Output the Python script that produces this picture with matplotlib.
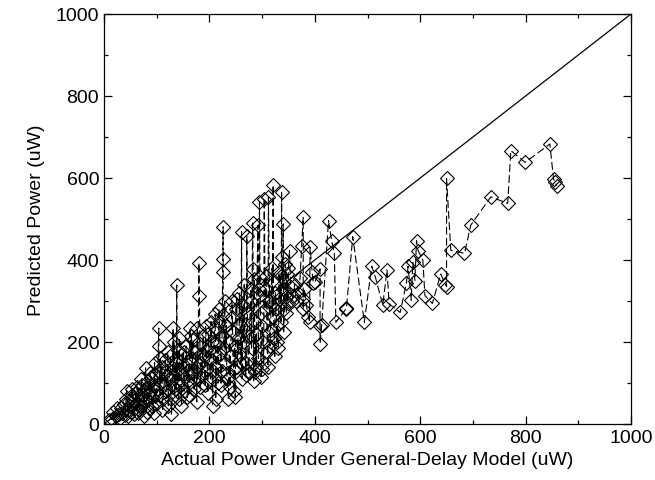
import matplotlib
matplotlib.use("Agg")
import matplotlib.pyplot as plt
from matplotlib.ticker import MultipleLocator

plt.rcParams['font.family'] = ['Liberation Sans', 'DejaVu Sans']

# (actual, predicted) pairs
actual = [10, 15, 18, 22, 24, 28, 30, 33, 35, 38, 40, 42, 43, 45, 48, 50, 52, 54, 56, 58,
          60, 62, 64, 66, 68, 70, 72, 74, 75, 77, 79, 80, 82, 84, 86, 88, 90, 92, 94, 95,
          97, 98, 100,
          102, 104, 104, 106, 108, 110, 112, 114, 116, 118, 120, 122, 124, 126, 128, 130,
          131, 132, 134, 136, 138, 139, 140, 142, 144, 146, 148, 150, 152, 154, 156, 158,
          160, 162, 163, 165, 167, 169, 171, 173, 175, 176, 178, 180, 181, 182, 184, 186,
          188, 190, 192, 194, 196, 198, 200,
          202, 204, 206, 208, 210, 211, 213, 215, 217, 219, 221, 223, 224, 226, 226, 226,
          226, 228, 230, 232, 234, 236, 238, 240, 242, 244, 246, 248, 249, 250, 252, 254,
          256, 258, 260, 261, 263, 265, 267, 269, 271, 272, 274, 276, 278, 280, 282, 283,
          285, 286, 287, 288, 290, 292, 293, 295, 296, 297, 299, 300,
          302, 304, 306, 308, 310, 312, 314, 316, 318, 320, 321, 321, 323, 325, 327, 329,
          331, 333, 335, 337, 337, 339, 340, 342, 344, 345, 347, 349, 352, 354, 356, 359,
          362, 365, 369, 372, 375, 378, 378, 378, 380, 384, 388, 390, 391, 395, 397, 400,
          410, 410, 410, 413, 426, 432, 437, 440, 459, 460, 472, 494, 508, 515, 529, 537,
          541, 562, 574, 577, 583, 586, 590, 593, 596, 605, 609, 623, 639, 648, 650, 650,
          658, 684, 696, 734, 766, 772, 799, 846, 853, 856, 859,
          46, 53, 57, 63, 67, 71, 76, 81, 87, 91, 96, 99, 107, 111, 117, 121, 127, 133,
          137, 143, 147, 151, 157, 161, 166, 172, 177, 183, 187, 193, 197, 203, 207, 212,
          218, 222, 229, 233, 239, 243, 247, 253, 257, 262, 266, 270, 275, 279, 284, 289,
          294, 298, 303, 307, 311, 315, 319, 324, 328, 332, 336, 341, 346, 350]

predicted = [10, 12, 30, 20, 38, 25, 15, 40, 28, 50, 22, 62, 80, 35, 55, 45, 30, 70, 58, 40,
             75, 50, 28, 85, 62, 45, 95, 70, 20, 55, 137, 88, 60, 105, 40, 78, 115, 65, 28, 92,
             120, 50, 85,
             130, 234, 191, 70, 100, 140, 60, 95, 155, 80, 120, 45, 110, 165, 24, 90,
             234, 135, 70, 150, 339, 105, 180, 60, 125, 95, 170, 140, 80, 115, 190, 65,
             145, 100, 234, 160, 125, 205, 85, 175, 140, 54, 110, 393, 311, 195, 150, 120,
             215, 165, 95, 180, 135, 220, 160,
             110, 200, 45, 175, 235, 268, 140, 195, 100, 250, 170, 130, 215, 481, 402, 371,
             266, 185, 150, 240, 110, 61, 200, 165, 260, 225, 135, 190, 65, 280, 305, 210,
             170, 245, 150, 469, 290, 200, 230, 120, 458, 270, 130, 215, 300, 185, 490, 378,
             354, 250, 126, 220, 320, 485, 160, 541, 358, 270, 134, 240,
             200, 549, 280, 330, 175, 553, 300, 230, 350, 260, 583, 297, 210, 320, 280, 240,
             185, 305, 360, 567, 407, 330, 488, 280, 390, 310, 366, 295, 423, 335, 301, 313,
             340, 300, 320, 355, 433, 504, 305, 280, 330, 290, 260, 248, 431, 370, 345, 346,
             378, 240, 196, 241, 496, 447, 416, 248, 280, 282, 457, 248, 385, 358, 290, 376,
             293, 272, 345, 385, 302, 394, 350, 447, 423, 400, 313, 294, 366, 340, 335, 599,
             424, 416, 485, 554, 538, 667, 638, 683, 598, 590, 581,
             20, 85, 25, 90, 35, 110, 80, 30, 125, 45, 150, 70, 160, 35, 130, 175, 60, 200,
             85, 210, 45, 175, 130, 70, 215, 110, 235, 90, 170, 240, 75, 250, 130, 60,
             280, 95, 300, 125, 90, 300, 80, 140, 320, 110, 340, 150, 125, 330, 105, 140,
             330, 115, 150, 360, 140, 190, 380, 165, 200, 370, 250, 225, 270, 380]

diag = [0, 1000]

# the reference connects the points in order of actual power
order = sorted(range(len(actual)), key=lambda i: (actual[i], i))
xs = [actual[i] for i in order]
ys = [predicted[i] for i in order]

fig = plt.figure(figsize=(6.55, 4.81), dpi=100)
ax = fig.add_axes([104 / 655, 56 / 481, 527 / 655, 410 / 481])

ax.plot(diag, diag, color='black', linewidth=0.9)
ax.plot(xs, ys, color='black', linewidth=0.8, linestyle=(0, (7, 3)),
        marker='D', markersize=6.8, markerfacecolor='none', markeredgecolor='black',
        markeredgewidth=0.8)

ax.set_xlim(0, 1000)
ax.set_ylim(0, 1000)
ax.xaxis.set_major_locator(MultipleLocator(200))
ax.yaxis.set_major_locator(MultipleLocator(200))
ax.xaxis.set_minor_locator(MultipleLocator(100))
ax.yaxis.set_minor_locator(MultipleLocator(100))
ax.tick_params(which='both', direction='in', top=True, right=True, labelsize=14, width=0.9)
ax.tick_params(which='major', length=6)
ax.tick_params(which='minor', length=3)
for s in ax.spines.values():
    s.set_linewidth(0.9)

ax.set_xlabel('Actual Power Under General-Delay Model (uW)', fontsize=14, labelpad=4)
ax.set_ylabel('Predicted Power (uW)', fontsize=14, labelpad=8)

fig.savefig('out.png', dpi=100)
